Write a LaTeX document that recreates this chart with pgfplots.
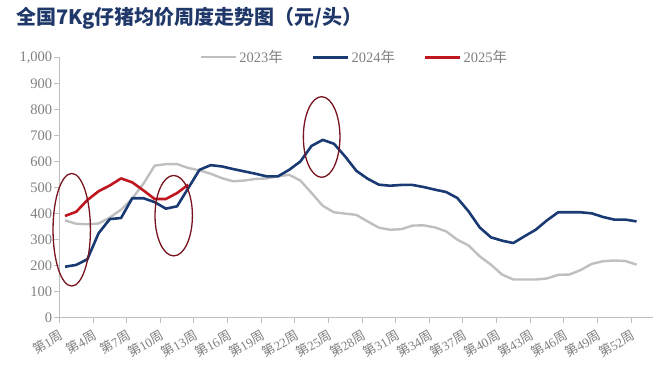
\documentclass[border=0pt]{standalone}
\usepackage{fontspec}
\setmainfont{Liberation Serif}
\newfontfamily\cjk{Noto Sans CJK SC}
\usepackage{pgfplots}
\pgfplotsset{compat=1.18}
\definecolor{gray23}{RGB}{191,191,191}
\definecolor{blue24}{RGB}{26,58,115}
\definecolor{red25}{RGB}{192,22,32}
\definecolor{ellcol}{RGB}{120,20,32}
\definecolor{titleblue}{RGB}{31,56,105}
\definecolor{axisgray}{RGB}{191,191,191}
\definecolor{labelgray}{RGB}{128,128,128}
\newcommand{\wk}[1]{{\cjk 第}#1{\cjk 周}}
\begin{document}
\begin{tikzpicture}
\useasboundingbox (0,0) rectangle (660bp,371bp);
\node[anchor=west, text=titleblue, inner sep=0pt, font={\cjk\bfseries\fontsize{20bp}{24bp}\selectfont}] at (16bp,353bp) {全国7Kg仔猪均价周度走势图（元/头）};
\begin{axis}[
  at={(59.4bp,53.2bp)}, anchor=south west,
  scale only axis, width=594bp, height=260.5bp,
  xmin=0.5, xmax=53.5, ymin=0, ymax=1000,
  clip=false,
  axis x line*=bottom, axis y line*=left,
  axis line style={color=axisgray, line width=0.9bp},
  tick align=outside, major tick length=5bp,
  tick style={color=axisgray, line width=0.9bp},
  ytick={0,100,...,1000},
  yticklabel style={font=\fontsize{14.5bp}{16bp}\selectfont, text=labelgray, /pgf/number format/1000 sep={,}, /pgf/number format/assume math mode=true, inner sep=2bp},
  xtick={0.5,3.5,...,51.5},
  xticklabels={},
  extra x ticks={1,4,7,10,13,16,19,22,25,28,31,34,37,40,43,46,49,52},
  extra x tick labels={\wk{1},\wk{4},\wk{7},\wk{10},\wk{13},\wk{16},\wk{19},\wk{22},\wk{25},\wk{28},\wk{31},\wk{34},\wk{37},\wk{40},\wk{43},\wk{46},\wk{49},\wk{52}},
  extra x tick style={tick style={draw=none}, xticklabel style={xshift=-6bp, yshift=-5bp, rotate=30, anchor=north east, font=\fontsize{13bp}{14bp}\selectfont, text=labelgray, inner sep=0.5bp}},
  legend style={at={(0.497,1)}, anchor=center, draw=none, fill=none, legend columns=3,
    font=\fontsize{14.5bp}{16bp}\selectfont, text=labelgray,
    /tikz/every even column/.append style={column sep=27bp}},
  legend image code/.code={\draw[#1] (0bp,0bp) -- (35bp,0bp);},
]
\addplot[gray23, line width=2.4bp, line join=round] coordinates {
(1,374)(2,361)(3,359)(4,362)(5,385)(6,415)(7,458)(8,515)(9,584)(10,590)
(11,590)(12,575)(13,566)(14,553)(15,536)(16,524)(17,527)(18,533)(19,535)(20,543)
(21,549)(22,527)(23,479)(24,430)(25,405)(26,400)(27,395)(28,370)(29,346)(30,338)
(31,340)(32,354)(33,355)(34,347)(35,332)(36,300)(37,278)(38,236)(39,204)(40,166)
(41,147)(42,147)(43,147)(44,151)(45,165)(46,166)(47,183)(48,207)(49,217)(50,220)
(51,218)(52,204)};
\addlegendentry{2023{\cjk 年}}
\addplot[blue24, line width=2.6bp, line join=round] coordinates {
(1,196)(2,203)(3,225)(4,325)(5,379)(6,383)(7,459)(8,459)(9,444)(10,419)
(11,428)(12,498)(13,568)(14,586)(15,581)(16,571)(17,562)(18,553)(19,543)(20,543)
(21,568)(22,600)(23,660)(24,683)(25,668)(26,619)(27,564)(28,534)(29,511)(30,507)
(31,510)(32,510)(33,502)(34,492)(35,483)(36,460)(37,409)(38,347)(39,309)(40,296)
(41,287)(42,313)(43,338)(44,374)(45,405)(46,405)(47,405)(48,401)(49,387)(50,377)
(51,377)(52,370)};
\addlegendentry{2024{\cjk 年}}
\addplot[red25, line width=2.6bp, line join=round] coordinates {
(1,391)(2,407)(3,452)(4,486)(5,508)(6,535)(7,520)(8,489)(9,456)(10,456)
(11,479)(12,511)};
\addlegendentry{2025{\cjk 年}}
\draw[ellcol, line width=1.3bp] (axis cs:1.6,338) ellipse [x radius=18.7bp, y radius=56.3bp];
\draw[ellcol, line width=1.3bp] (axis cs:10.7,392) ellipse [x radius=18.7bp, y radius=40.2bp];
\draw[ellcol, line width=1.3bp] (axis cs:23.9,694) ellipse [x radius=18.3bp, y radius=40.3bp];
\end{axis}
\end{tikzpicture}
\end{document}
